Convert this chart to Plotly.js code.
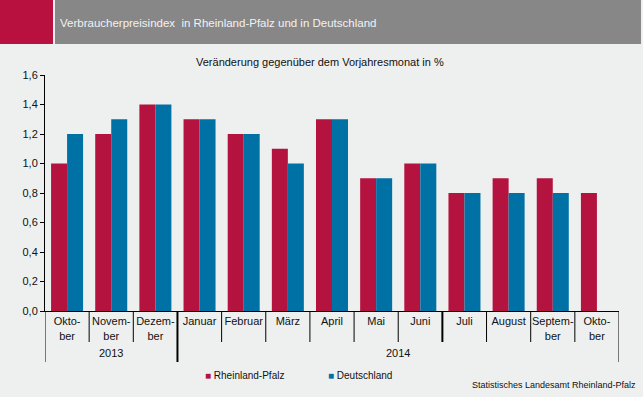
<!DOCTYPE html>
<html><head><meta charset="utf-8">
<script src="https://cdn.plot.ly/plotly-3.0.1.min.js"></script>
<style>html,body{margin:0;padding:0;background:#eef0ef;}#chart{width:643px;height:397px;}</style>
</head><body><div id="chart"></div>
<script>
const categories = ["Okt 2013","Nov 2013","Dez 2013","Jan 2014","Feb 2014","Mär 2014","Apr 2014","Mai 2014","Jun 2014","Jul 2014","Aug 2014","Sep 2014","Okt 2014"];
const tickLabels = ["Okto-<br>ber","Novem-<br>ber","Dezem-<br>ber","Januar","Februar","März","April","Mai","Juni","Juli","August","Septem-<br>ber","Okto-<br>ber"];
const rheinlandPfalz = [1.0,1.2,1.4,1.3,1.2,1.1,1.3,0.9,1.0,0.8,0.9,0.9,0.8];
const deutschland = [1.2,1.3,1.4,1.3,1.2,1.0,1.3,0.9,1.0,0.8,0.8,0.8,null];
const years = [{label:"2013", from:0, to:2},{label:"2014", from:3, to:12}];
const seriesNames = ["Rheinland-Pfalz","Deutschland"];
const colors = ["#b5133f","#0071a4"];

const FONT = "Liberation Sans, Arial, sans-serif";
// plot area: x 45..619, y 75..311
const PL=45, PR=619, PT=75, PB=311;
const px = v => (v-PL)/(PR-PL);
const py = v => (PB-v)/(PB-PT);

const traces = [
  {type:"bar", x:categories, y:rheinlandPfalz, name:seriesNames[0], marker:{color:colors[0]}, hoverinfo:"y"},
  {type:"bar", x:categories, y:deutschland, name:seriesNames[1], marker:{color:colors[1]}, hoverinfo:"y"}
];

const shapes = [
  {type:"rect", xref:"paper", yref:"paper", x0:px(0), x1:px(53), y0:py(44), y1:py(0), fillcolor:"#b81140", line:{width:0}, layer:"below"},
  {type:"rect", xref:"paper", yref:"paper", x0:px(55), x1:px(641), y0:py(44), y1:py(0), fillcolor:"#878787", line:{width:0}, layer:"below"}
];
// category separators
for (let i=0;i<=categories.length;i++){
  const xv = i-0.5;
  const isEdge = (i===0 || i===categories.length);
  const isYear = years.some(y=>y.from===i && i>0);
  const isHalf = (i===9);
  const bottom = (isEdge||isYear) ? 362 : 342;
  shapes.push({type:"line", xref:"x", yref:"paper", x0:xv, x1:xv, y0:py(311), y1:py(bottom),
    line:{color:"#000", width:(isYear||isHalf)?2:1}});
}

const annotations = [
  {xref:"paper", yref:"paper", x:px(58), y:py(23), xanchor:"left", yanchor:"middle", text:"Verbraucherpreisindex  in Rheinland-Pfalz und in Deutschland", showarrow:false, font:{family:FONT, size:11.5, color:"#f2f2f2"}},
  {xref:"paper", yref:"paper", x:px(320), y:py(62), xanchor:"center", yanchor:"middle", text:"Veränderung gegenüber dem Vorjahresmonat in %", showarrow:false, font:{family:FONT, size:11, color:"#111"}},
  {xref:"paper", yref:"paper", x:px(638), y:py(385), xanchor:"right", yanchor:"middle", text:"Statistisches Landesamt Rheinland-Pfalz", showarrow:false, font:{family:FONT, size:9, color:"#111"}},
  {xref:"paper", yref:"paper", x:px(203), y:py(375), xanchor:"left", yanchor:"middle", text:'<span style="color:'+colors[0]+'">■</span> '+seriesNames[0], showarrow:false, font:{family:FONT, size:10, color:"#111"}},
  {xref:"paper", yref:"paper", x:px(326), y:py(375), xanchor:"left", yanchor:"middle", text:'<span style="color:'+colors[1]+'">■</span> '+seriesNames[1], showarrow:false, font:{family:FONT, size:10, color:"#111"}}
];
years.forEach(y=>{
  annotations.push({xref:"x", yref:"paper", x:(y.from+y.to)/2, y:py(353), xanchor:"center", yanchor:"middle", text:y.label, showarrow:false, font:{family:FONT, size:11, color:"#111"}});
});

const layout = {
  width:643, height:397,
  margin:{l:PL, r:643-PR, t:PT, b:397-PB, pad:0},
  paper_bgcolor:"#eef0ef", plot_bgcolor:"#eef0ef",
  separators:",.",
  barmode:"group", bargap:0.275, bargroupgap:0,
  showlegend:false,
  font:{family:FONT, size:11, color:"#111"},
  xaxis:{type:"category", range:[-0.5,12.5], tickvals:categories, ticktext:tickLabels, ticks:"", showline:true, linecolor:"#000", linewidth:1, showgrid:false, zeroline:false, tickfont:{family:FONT, size:11, color:"#111"}, fixedrange:true},
  yaxis:{range:[0,1.6], dtick:0.2, tickformat:".1f", ticks:"outside", ticklen:4, tickcolor:"#000", showline:true, linecolor:"#000", linewidth:1, showgrid:false, zeroline:false, tickfont:{family:FONT, size:11, color:"#111"}, fixedrange:true},
  shapes:shapes, annotations:annotations
};
Plotly.newPlot("chart", traces, layout, {displayModeBar:false, staticPlot:true});
</script></body></html>
